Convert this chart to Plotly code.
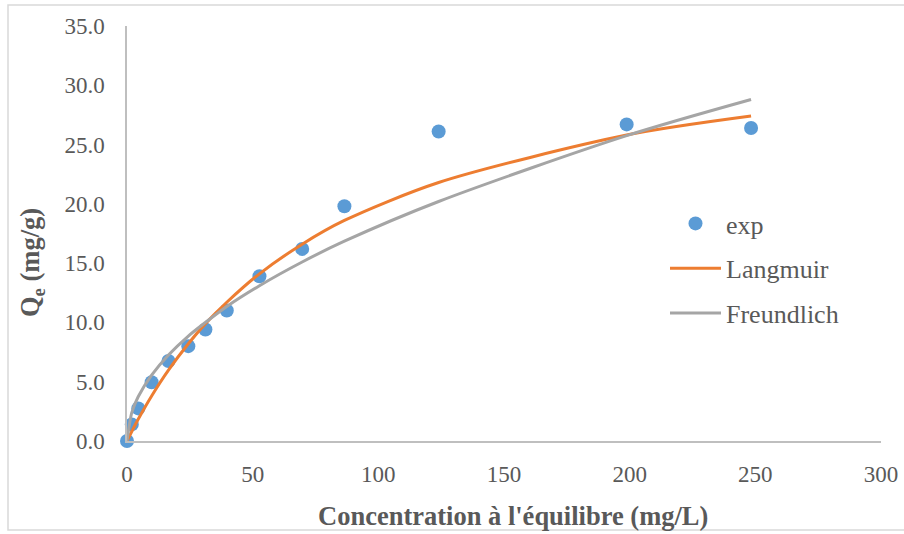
import plotly.graph_objects as go

# Equilibrium concentration (mg/L) and adsorbed amount (mg/g)
ce = [0, 1.9, 4.5, 9.8, 16.5, 24.4, 31.2, 39.7, 52.7, 69.7, 86.5, 124.0, 198.8, 248.3]
qe_exp = [0.0, 1.4, 2.75, 4.95, 6.75, 8.0, 9.4, 11.0, 13.9, 16.2, 19.8, 26.1, 26.7, 26.4]

# Model values at the same concentrations
qe_langmuir = [0.0, 0.8, 1.85, 3.8, 5.98, 8.2, 9.9, 11.7, 14.1, 16.6, 18.6, 21.8, 25.8, 27.4]
qe_freundlich = [0.0, 2.4, 3.75, 5.55, 7.25, 8.85, 10.0, 11.35, 13.1, 15.1, 16.85, 20.2, 25.75, 28.8]

x_ticks = [0, 50, 100, 150, 200, 250, 300]
y_ticks = [0, 5, 10, 15, 20, 25, 30, 35]

FONT = "Liberation Serif"
TXT = "#595959"
AX = "#BFBFBF"

L, R, T, B = 127, 23, 26, 93
PW, PH = 904 - L - R, 534 - T - B


def px_x(p):
    return (p - L) / PW


def px_y(p):
    return (534 - B - p) / PH


fig = go.Figure()
fig.add_trace(go.Scatter(
    x=ce, y=qe_exp, mode="markers", name="exp", legendgroup="a", legendrank=1,
    marker=dict(size=14, color="#5B9BD5"), cliponaxis=False))
fig.add_trace(go.Scatter(
    x=ce, y=qe_langmuir, mode="lines", name="Langmuir", legendgroup="b", legendrank=2,
    line=dict(color="#ED7D31", width=3, shape="spline", smoothing=0.8)))
fig.add_trace(go.Scatter(
    x=ce, y=qe_freundlich, mode="lines", name="Freundlich", legendgroup="c", legendrank=3,
    line=dict(color="#A5A5A5", width=3, shape="spline", smoothing=0.8)))

fig.update_layout(
    width=904, height=534,
    margin=dict(l=L, r=R, t=T, b=B, autoexpand=False),
    paper_bgcolor="white", plot_bgcolor="white",
    font=dict(family=FONT, color=TXT, size=22),
    showlegend=True,
    legend=dict(
        x=px_x(665), y=px_y(200), xanchor="left", yanchor="top",
        font=dict(size=26, color=TXT, family=FONT),
        tracegroupgap=8, traceorder="grouped", itemwidth=51,
        bgcolor="rgba(0,0,0,0)"),
    xaxis=dict(
        range=[0, 300], tickvals=x_ticks, ticktext=[str(v) for v in x_ticks],
        showgrid=False, zeroline=False, showline=True, linecolor=AX, linewidth=1.5,
        ticks="outside", ticklen=12, tickcolor="rgba(0,0,0,0)", automargin=False,
        tickfont=dict(size=23, color=TXT, family=FONT), fixedrange=True),
    yaxis=dict(
        range=[0, 35], tickvals=y_ticks, ticktext=[f"{v:.1f}" for v in y_ticks],
        showgrid=False, zeroline=False, showline=True, linecolor=AX, linewidth=1.5,
        ticks="outside", ticklen=16, tickcolor="rgba(0,0,0,0)", automargin=False,
        tickfont=dict(size=23, color=TXT, family=FONT), fixedrange=True),
    annotations=[
        dict(text="<b>Concentration à l'équilibre (mg/L)</b>", xref="paper", yref="paper",
             x=px_x(513), y=px_y(516), xanchor="center", yanchor="middle",
             showarrow=False, font=dict(size=26.5, color=TXT, family=FONT)),
        dict(text="<b>Q<sub>e</sub> (mg/g)</b>", xref="paper", yref="paper",
             x=px_x(32), y=px_y(263), xanchor="center", yanchor="middle",
             textangle=-90, showarrow=False, font=dict(size=26.5, color=TXT, family=FONT)),
    ],
    shapes=[dict(type="rect", xref="paper", yref="paper",
                 x0=px_x(8), x1=px_x(960),
                 y0=px_y(530), y1=px_y(5),
                 line=dict(color="#D9D9D9", width=1.5), fillcolor="rgba(0,0,0,0)", layer="below")],
)

fig.write_html("out.html")
